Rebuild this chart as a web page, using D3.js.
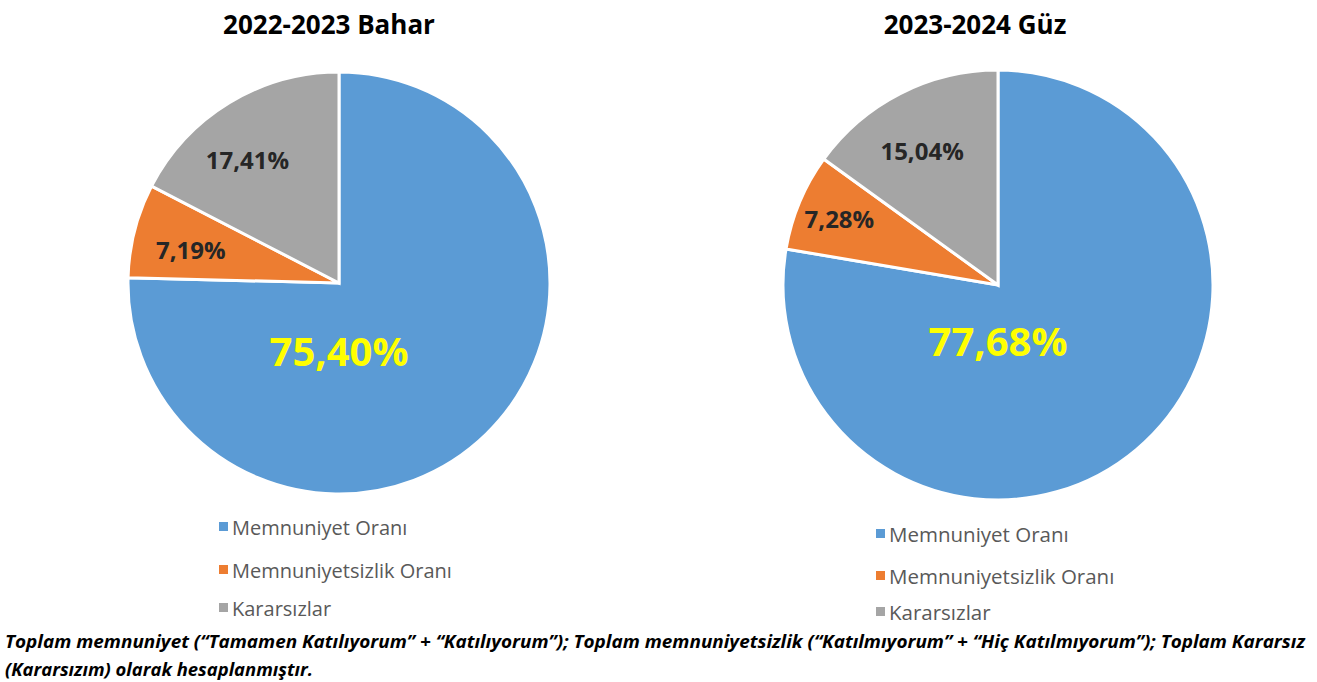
<!DOCTYPE html>
<html><head><meta charset="utf-8">
<script src="https://cdn.jsdelivr.net/npm/d3@7"></script>
<style>body{margin:0;background:#fff}svg{display:block}</style>
</head><body>
<svg id="c" width="1317" height="682"></svg>
<script>
const categories = ["Memnuniyet Oranı", "Memnuniyetsizlik Oranı", "Kararsızlar"];
const colors = ["#5B9BD5", "#ED7D31", "#A5A5A5"];
const titles = ["2022-2023 Bahar", "2023-2024 Güz"];
const values2022 = [75.40, 7.19, 17.41];
const values2023 = [77.68, 7.28, 15.04];
const footnote1 = "Toplam memnuniyet (“Tamamen Katılıyorum” + “Katılıyorum”); Toplam memnuniyetsizlik (“Katılmıyorum” + “Hiç Katılmıyorum”); Toplam Kararsız";
const footnote2 = "(Kararsızım) olarak hesaplanmıştır.";

const svg = d3.select("#c");
const fmt = v => d3.format(".2f")(v).replace(".", ",") + "%";

const charts = [
  {values: values2022, title: titles[0], cx: 339, cy: 283, r: 211, tx: 329, ty: 34,
   legX: 219, legY: [527, 570, 608], legFont: 20, lblR: [0.32, 0.72, 0.73], lblA: [0, -0.03, -0.09]},
  {values: values2023, title: titles[1], cx: 998, cy: 285, r: 215, tx: 975, ty: 34,
   legX: 876, legY: [534, 576, 612], legFont: 20.5, lblR: [0.26, 0.80, 0.72], lblA: [0, 0, -0.04]}
];

const pie = d3.pie().sort(null).value(d => d);

charts.forEach(ch => {
  const g = svg.append("g").attr("transform", `translate(${ch.cx},${ch.cy})`);
  const arcs = pie(ch.values);
  const arc = d3.arc().innerRadius(0).outerRadius(ch.r);
  g.selectAll("path").data(arcs).join("path")
    .attr("d", arc).attr("fill", (d, i) => colors[i])
    .attr("stroke", "#fff").attr("stroke-width", 3).attr("stroke-linejoin", "miter");

  arcs.forEach((d, i) => {
    let a = (d.startAngle + d.endAngle) / 2 + ch.lblA[i];
    if (i === 0) a = Math.PI; // main label placed below center
    const rr = ch.r * ch.lblR[i];
    const x = Math.sin(a) * rr, y = -Math.cos(a) * rr;
    g.append("text").attr("x", x).attr("y", y)
      .attr("text-anchor", "middle").attr("dominant-baseline", "central")
      .attr("font-family", "'Open Sans', sans-serif").attr("font-weight", 700)
      .attr("font-size", i === 0 ? 40 : 24)
      .attr("fill", i === 0 ? "#FFFF00" : "#262626")
      .text(fmt(d.data));
  });

  svg.append("text").attr("x", ch.tx).attr("y", ch.ty)
    .attr("text-anchor", "middle").attr("font-family", "'Open Sans', sans-serif")
    .attr("font-weight", 700).attr("font-size", 26).attr("fill", "#000")
    .text(ch.title);

  categories.forEach((c, i) => {
    const lg = svg.append("g").attr("transform", `translate(${ch.legX},${ch.legY[i]})`);
    lg.append("rect").attr("x", 0).attr("y", -5).attr("width", 9).attr("height", 9).attr("fill", colors[i]);
    lg.append("text").attr("x", 13).attr("y", 0).attr("dominant-baseline", "central")
      .attr("font-family", "'Open Sans', sans-serif").attr("font-size", ch.legFont)
      .attr("fill", "#595959").text(c);
  });
});

svg.append("text").attr("x", 5).attr("y", 648)
  .attr("font-family", "'Open Sans', sans-serif").attr("font-weight", 700).attr("font-style", "italic")
  .attr("font-size", 17).attr("fill", "#000")
  .attr("textLength", 1300).attr("lengthAdjust", "spacingAndGlyphs").text(footnote1);
svg.append("text").attr("x", 5).attr("y", 676)
  .attr("font-family", "'Open Sans', sans-serif").attr("font-weight", 700).attr("font-style", "italic")
  .attr("font-size", 17).attr("fill", "#000")
  .attr("textLength", 308).attr("lengthAdjust", "spacingAndGlyphs").text(footnote2);
</script>
</body></html>
